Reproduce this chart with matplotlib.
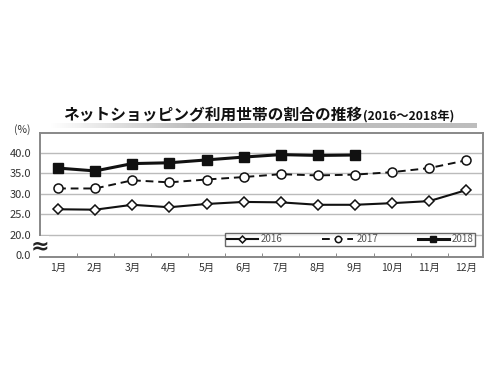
import matplotlib
matplotlib.use("Agg")
import matplotlib.pyplot as plt
import numpy as np

plt.rcParams['font.family'] = ['Noto Sans CJK JP', 'DejaVu Sans']

months = list(range(1, 13))
month_labels = [f"{m}月" for m in months]
y2016 = [26.2, 26.1, 27.3, 26.7, 27.5, 28.0, 27.9, 27.3, 27.3, 27.7, 28.2, 30.9]
y2017 = [31.3, 31.3, 33.3, 32.8, 33.5, 34.1, 34.8, 34.5, 34.7, 35.3, 36.3, 38.2]
months_2018 = list(range(1, 10))
y2018 = [36.3, 35.6, 37.4, 37.6, 38.3, 39.0, 39.6, 39.4, 39.5]
ytick_vals = [15, 20, 25, 30, 35, 40]
ytick_labels = ["0.0", "20.0", "25.0", "30.0", "35.0", "40.0"]

W, H = 500, 375
fig = plt.figure(figsize=(5, 3.75), dpi=100)
fig.patch.set_facecolor('white')

left, right, top, bottom = 39.5, 483, 133, 257
ax = fig.add_axes([left / W, 1 - bottom / H, (right - left) / W, (bottom - top) / H])

ax.plot(months, y2016, color='#111111', lw=1.5, marker='D', ms=5,
        mfc='white', mec='#111111', mew=1.1, label='2016', zorder=3)
ax.plot(months, y2017, color='#111111', lw=1.4, ls=(0, (4, 2.5)), marker='o', ms=6.5,
        mfc='white', mec='#111111', mew=1.1, label='2017', zorder=3)
ax.plot(months_2018, y2018, color='#111111', lw=2.2, marker='s', ms=6.5,
        mfc='#111111', mec='#111111', label='2018', zorder=4)

ax.set_xlim(0.5, 12.45)
ax.set_ylim(14.5, 44.9)
ax.set_yticks(ytick_vals)
ax.set_yticklabels(ytick_labels)
ax.set_xticks(months)
ax.set_xticklabels(month_labels)
ax.set_xticks([m + 0.5 for m in months[:-1]], minor=True)
ax.tick_params(axis='x', which='major', length=0, labelsize=7.5, colors='#333333', pad=4)
ax.tick_params(axis='x', which='minor', length=3, direction='in', color='#777777')
ax.tick_params(axis='y', length=0, labelsize=8, colors='#333333', pad=6)

for v in [20, 25, 30, 35, 40]:
    ax.axhline(v, color='#bbbbbb', lw=1.0, zorder=1)

for s in ax.spines.values():
    s.set_color('#888888')
    s.set_linewidth(1.4)

leg = ax.legend(loc='lower left', bbox_to_anchor=(0.408, 0.05, 0.585, 0.095),
                mode='expand', ncol=3, fontsize=7, frameon=True, fancybox=False,
                handlelength=3.2, borderpad=0.15, handletextpad=0.3, columnspacing=1.0,
                markerscale=0.7)
leg.get_frame().set_edgecolor('#444444')
leg.get_frame().set_linewidth(1.0)
for t in leg.get_texts():
    t.set_color('#555555')

# axis break mark
ax.text(0.5, 17.2, "≈", fontsize=16, ha='center', va='center', color='#222222',
        family='DejaVu Sans', fontweight='bold',
        bbox=dict(facecolor='white', edgecolor='none', pad=0.0), zorder=6, clip_on=False)

# (%)
fig.text(22 / W, 1 - 130 / H, "(%)", fontsize=7.5, color='#333333', ha='center', va='center')

# title shadow bar
bar_ax = fig.add_axes([50 / W, 1 - 128 / H, (477 - 50) / W, 5 / H])
grad = np.linspace(0, 1, 256).reshape(1, -1)
grad = np.clip(grad * 3.0, 0, 1)
bar_ax.imshow(grad, aspect='auto', cmap=matplotlib.colors.LinearSegmentedColormap.from_list(
    'g', ['#ffffff', '#bdbdbd']), extent=(0, 1, 0, 1))
bar_ax.axis('off')

t1 = fig.text(63 / W, 1 - 115 / H, "ネットショッピング利用世帯の割合の推移", fontsize=11.3,
              fontweight='bold', color='#111111', ha='left', va='center')
fig.canvas.draw()
bb = t1.get_window_extent()
fig.text(bb.x1 / W + 1 / W, 1 - 116 / H, "(2016～2018年)", fontsize=8.8, fontweight='bold',
         color='#111111', ha='left', va='center')

fig.savefig("out.png", dpi=100, facecolor='white')
